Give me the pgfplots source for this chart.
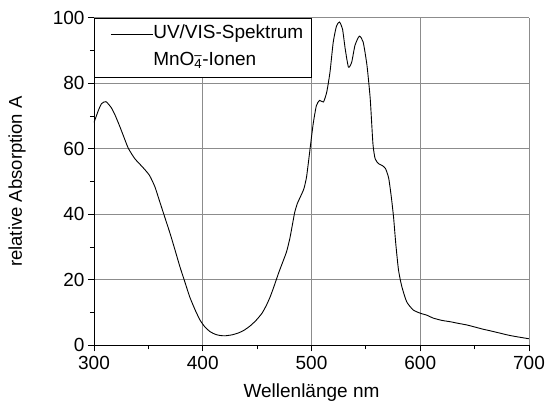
\documentclass[border=0pt]{standalone}
\usepackage{fontspec}
\setmainfont{Liberation Sans}
\usepackage{pgfplots}
\pgfplotsset{compat=1.18}

% UV/VIS absorption spectrum of permanganate ions (wavelength in nm, relative absorption)
\pgfplotstableread{
nm     A
300    68.0
304    71.7
307    73.8
311    74.4
316    72.5
319.5  70.2
323.5  67.0
327    64.0
331.5  60.2
337.5  57.0
345    54.3
351    51.9
356    48.4
360.5  43.8
365    39.2
370    34.1
374.5  29.1
379    24.0
383.5  19.4
388    14.8
393    10.8
397.5  7.7
402    5.6
407    4.1
412    3.3
416    3.0
420.5  2.9
427    3.2
433    3.8
438    4.6
443.5  5.9
449    7.6
454.5  9.8
458.5  12.2
462    14.8
465    17.5
467.5  19.9
470    22.3
472.5  24.5
477    28.5
480    32.5
482    36.0
484.5  40.5
487    43.3
490    45.5
493    47.8
495.5  51.5
498.5  59.5
501.5  67.5
504.5  73.2
507.5  74.8
511    74.3
514    77.3
517    83.4
520    92.6
523    97.5
525.7  98.7
528.5  96.6
531    90.5
534    84.9
537    86.5
540    91.6
544    94.4
547.5  92.6
551    85.5
554    75.3
556.5  61.5
558.5  57.0
561.5  55.5
565    54.9
568    54.0
571    51.0
573.5  45.0
575.5  39.0
577.5  31.0
580    23.0
583    18.0
587.5  13.3
593.5  10.8
600    9.8
606    9.2
612    8.3
620    7.6
627.5  7.2
635    6.7
643    6.2
650    5.6
658    4.9
666    4.3
673.5  3.7
681    3.1
689    2.6
700    2.0
}\spectrum

\begin{document}
\begin{tikzpicture}[x=1pt,y=1pt]
\useasboundingbox (-94,-62.7) rectangle (456,345.3);
\begin{axis}[
  at={(0,0)}, anchor=south west,
  scale only axis, width=435pt, height=327.5pt,
  xmin=300, xmax=700, ymin=0, ymax=100,
  axis x line*=bottom, axis y line*=left,
  axis line style={black, line width=0.8pt, -},
  xtick={300,400,...,700}, ytick={0,20,...,100},
  minor x tick num=1, minor y tick num=1,
  tick align=outside,
  major tick length=6pt, minor tick length=4pt,
  tick style={black, line width=0.8pt},
  grid=major,
  major grid style={black!45, line width=0.8pt},
  /pgf/number format/assume math mode=true,
  ticklabel style={font=\fontsize{19}{19}\selectfont},
  xticklabel style={yshift=-1pt},
  xlabel={Wellenlänge nm},
  ylabel={relative Absorption A},
  xlabel style={font=\fontsize{19}{19}\selectfont, at={(axis description cs:0.5,-0.145)}, anchor=center},
  ylabel style={font=\fontsize{18.5}{18.5}\selectfont, at={(axis description cs:-0.177,0.5)}, anchor=center},
  legend cell align=left,
  legend image code/.code={\path (0pt,0pt); \draw[#1] (8pt,0pt) -- (50pt,0pt);},
  legend style={at={(0,1)}, anchor=north west, draw=black, line width=0.8pt,
    fill=white, font=\fontsize{19}{19}\selectfont,
    inner xsep=8pt, inner ysep=7pt, row sep=9pt,
    nodes={inner xsep=0pt, inner ysep=0pt, text height=13.5pt, text depth=4.5pt}},
]
\addplot[black, line width=0.9pt, smooth, tension=0.35] table[x=nm, y=A] {\spectrum};
\addlegendentry{UV/VIS-Spektrum}
\addlegendimage{empty legend}
\addlegendentry{MnO\rlap{\textsubscript{4}}\textsuperscript{–}-Ionen}
\end{axis}
\end{tikzpicture}
\end{document}
